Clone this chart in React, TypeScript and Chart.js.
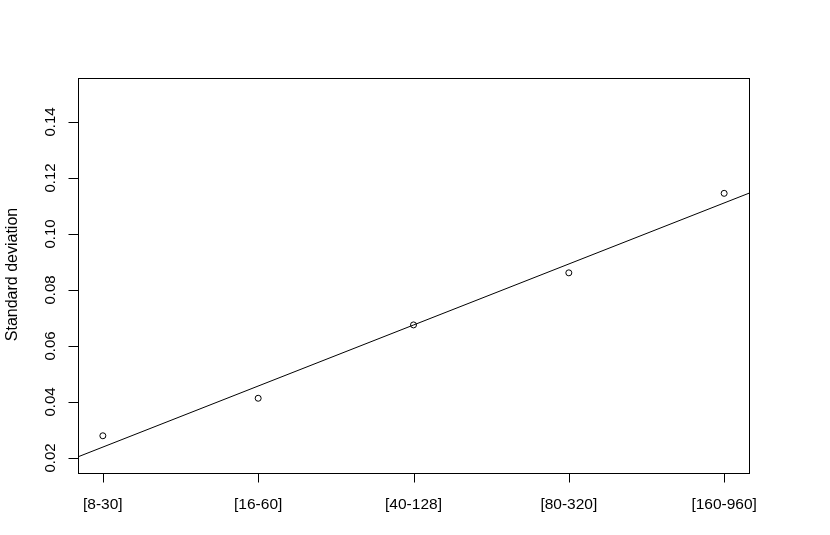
import React, { useEffect, useRef } from "react";
import { Chart, registerables } from "chart.js";

Chart.register(...registerables);

const categories: string[] = ["[8-30]", "[16-60]", "[40-128]", "[80-320]", "[160-960]"];
const xPositions: number[] = [1, 2, 3, 4, 5];
const stdDev: number[] = [0.0279, 0.0413, 0.0675, 0.0861, 0.1145];
const yTicks: number[] = [0.02, 0.04, 0.06, 0.08, 0.1, 0.12, 0.14];
const yTitle = "Standard deviation";

const X_MIN = 0.84;
const X_MAX = 5.16;
const Y_MIN = 0.0146;
const Y_MAX = 0.1557;

function fitLine(xs: number[], ys: number[]) {
  const n = xs.length;
  const mx = xs.reduce((a, b) => a + b, 0) / n;
  const my = ys.reduce((a, b) => a + b, 0) / n;
  let sxy = 0;
  let sxx = 0;
  for (let i = 0; i < n; i++) {
    sxy += (xs[i] - mx) * (ys[i] - my);
    sxx += (xs[i] - mx) * (xs[i] - mx);
  }
  const slope = sxy / sxx;
  return { slope, intercept: my - slope * mx };
}

const rAxesPlugin = {
  id: "rAxes",
  afterDraw(chart: any) {
    const ctx = chart.ctx as CanvasRenderingContext2D;
    const { left, right, top, bottom } = chart.chartArea;
    const xs = chart.scales.x;
    const ys = chart.scales.y;
    ctx.save();
    ctx.strokeStyle = "#000";
    ctx.fillStyle = "#000";
    ctx.lineWidth = 1;
    // box
    ctx.strokeRect(Math.round(left) + 0.5, Math.round(top) + 0.5, Math.round(right - left), Math.round(bottom - top));
    // x ticks
    ctx.beginPath();
    xPositions.forEach((v) => {
      const px = Math.round(xs.getPixelForValue(v)) + 0.5;
      ctx.moveTo(px, Math.round(bottom) + 0.5);
      ctx.lineTo(px, Math.round(bottom) + 9.5);
    });
    // y ticks
    yTicks.forEach((v) => {
      const py = Math.round(ys.getPixelForValue(v)) + 0.5;
      ctx.moveTo(Math.round(left) + 0.5, py);
      ctx.lineTo(Math.round(left) - 9.5, py);
    });
    ctx.stroke();
    // x labels
    ctx.font = '15.5px "Liberation Sans", Arial, sans-serif';
    ctx.textAlign = "center";
    ctx.textBaseline = "alphabetic";
    xPositions.forEach((v, i) => {
      const px = xs.getPixelForValue(v);
      ctx.fillText(categories[i], px, 509);
    });
    // y labels rotated
    ctx.font = '15px "Liberation Sans", Arial, sans-serif';
    yTicks.forEach((v) => {
      const py = ys.getPixelForValue(v);
      ctx.save();
      ctx.translate(55, py);
      ctx.rotate(-Math.PI / 2);
      ctx.fillText(v.toFixed(2), 0, 0);
      ctx.restore();
    });
    // y title
    ctx.font = '16px "Liberation Sans", Arial, sans-serif';
    ctx.save();
    ctx.translate(17, (top + bottom) / 2 - 1);
    ctx.rotate(-Math.PI / 2);
    ctx.fillText(yTitle, 0, 0);
    ctx.restore();
    ctx.restore();
  },
};

export default function App() {
  const ref = useRef<HTMLCanvasElement | null>(null);
  useEffect(() => {
    document.body.style.margin = "0";
    document.body.style.overflow = "hidden";
    document.body.style.background = "#fff";
    if (!ref.current) return;
    const { slope, intercept } = fitLine(xPositions, stdDev);
    const chart = new Chart(ref.current, {
      type: "scatter",
      data: {
        datasets: [
          {
            label: "points",
            data: xPositions.map((x, i) => ({ x, y: stdDev[i] })),
            showLine: false,
            pointRadius: 3,
            pointBorderWidth: 1,
            pointBorderColor: "#000",
            pointBackgroundColor: "rgba(0,0,0,0)",
            pointHoverRadius: 3,
          },
          {
            label: "fit",
            data: [
              { x: X_MIN, y: intercept + slope * X_MIN },
              { x: X_MAX, y: intercept + slope * X_MAX },
            ],
            showLine: true,
            borderColor: "#000",
            borderWidth: 1,
            pointRadius: 0,
            pointHoverRadius: 0,
          },
        ],
      },
      options: {
        responsive: false,
        animation: false,
        layout: { padding: { left: 78, right: 81, top: 78, bottom: 62 } },
        plugins: { legend: { display: false }, tooltip: { enabled: false } },
        scales: {
          x: { type: "linear", min: X_MIN, max: X_MAX, display: false },
          y: { type: "linear", min: Y_MIN, max: Y_MAX, display: false },
        },
      },
      plugins: [rAxesPlugin],
    });
    return () => chart.destroy();
  }, []);
  return <canvas ref={ref} width={830} height={535} style={{ display: "block" }} />;
}
